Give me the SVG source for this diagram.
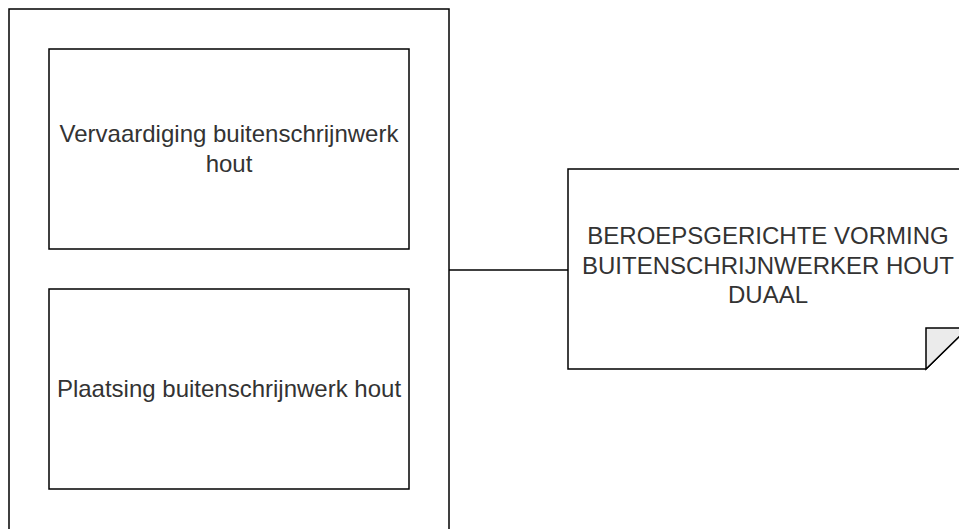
<svg xmlns="http://www.w3.org/2000/svg" width="959" height="529" viewBox="0 0 959 529">
<style>
.box{fill:#fff;stroke:#000;stroke-width:1.5}
.t{font-family:"Liberation Sans",Arial,sans-serif;font-size:24px;fill:#333;text-anchor:middle}
.c{fill:none;stroke:#000;stroke-width:1.5}
</style>
<rect width="959" height="529" fill="#fff"/>
<g id="container">
<rect class="box" x="9" y="9" width="440" height="540"/>
</g>
<g id="vervaardiging">
<rect class="box" x="49" y="49" width="360" height="200"/>
<text class="t" x="229" y="142">Vervaardiging buitenschrijnwerk</text>
<text class="t" x="229" y="172">hout</text>
</g>
<g id="plaatsing">
<rect class="box" x="49" y="289" width="360" height="200"/>
<text class="t" x="229" y="397">Plaatsing buitenschrijnwerk hout</text>
</g>
<g id="connectors">
<line class="c" x1="449" y1="270" x2="568" y2="270"/>
</g>
<g id="beroepsgerichte">
<path class="box" d="M568,169 H968 V328 L926,369 H568 Z"/>
<path d="M926,369 V328 H968 Z" fill="#ebebeb" stroke="#000" stroke-width="1.5" stroke-linejoin="miter"/>
<text class="t" x="768" y="244">BEROEPSGERICHTE VORMING</text>
<text class="t" x="768" y="274">BUITENSCHRIJNWERKER HOUT</text>
<text class="t" x="768" y="303">DUAAL</text>
</g>
</svg>
